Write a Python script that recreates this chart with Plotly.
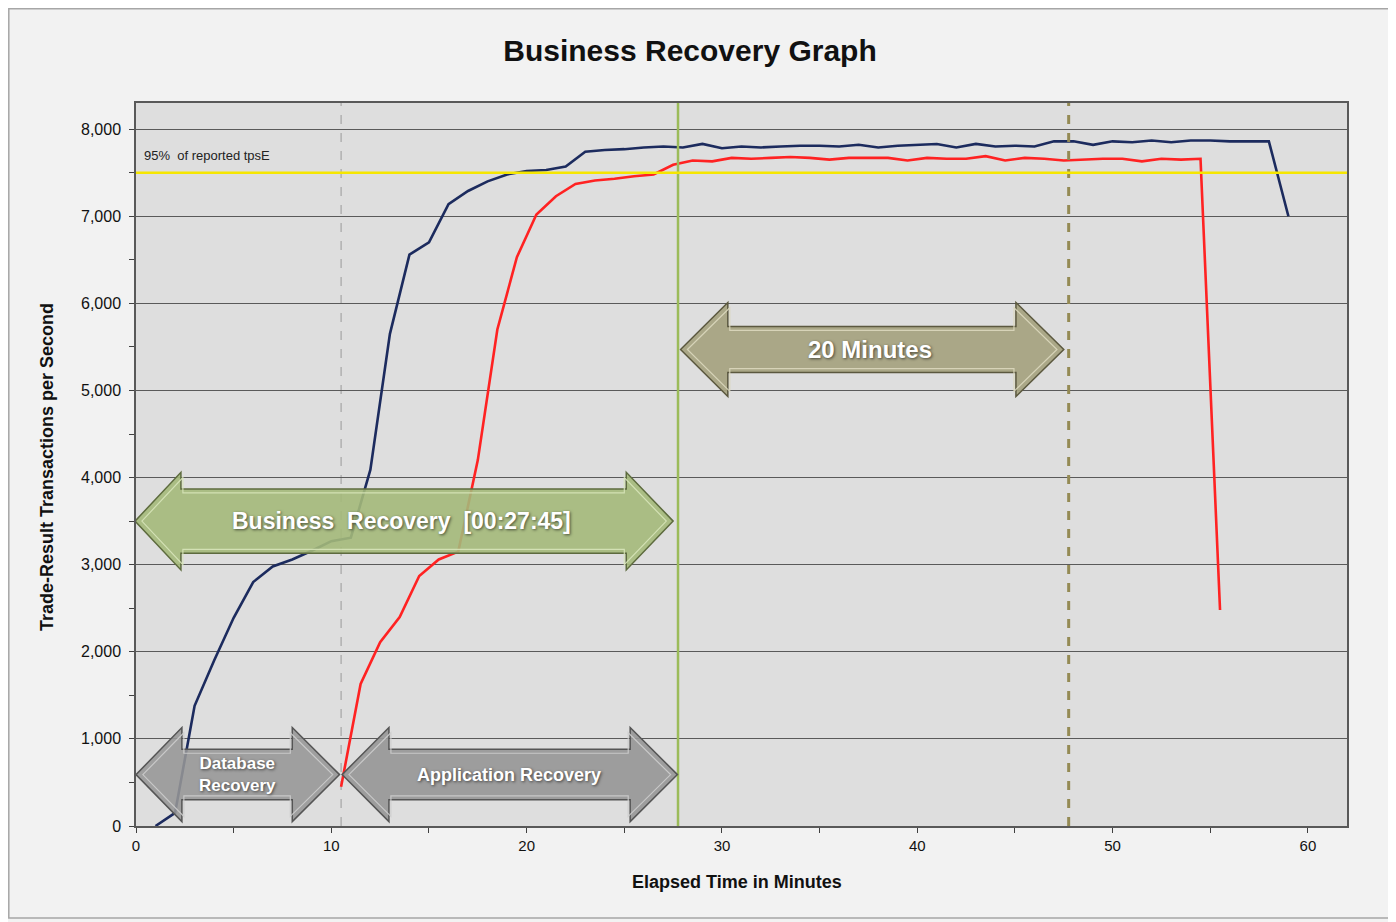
import plotly.graph_objects as go

# ---------------- data ----------------
blue_x = list(range(1, 60))
blue_y = [0, 150, 1380, 1900, 2390, 2800, 2980, 3060, 3160, 3270,
          3310, 4090, 5650, 6560, 6700, 7140, 7290, 7400, 7480, 7520,
          7530, 7570, 7740, 7760, 7770, 7790, 7800, 7790, 7830, 7780,
          7800, 7790, 7800, 7810, 7810, 7800, 7820, 7790, 7810, 7820,
          7830, 7790, 7830, 7800, 7810, 7800, 7860, 7860, 7820, 7860,
          7850, 7870, 7850, 7870, 7870, 7860, 7860, 7860, 7000]

red_x = [v + 0.5 for v in range(10, 56)]
red_y = [450, 1630, 2110, 2400, 2870, 3060, 3150, 4200, 5700, 6530,
         7020, 7230, 7370, 7410, 7430, 7460, 7480, 7590, 7640, 7630,
         7670, 7660, 7670, 7680, 7670, 7650, 7670, 7670, 7670, 7640,
         7670, 7660, 7660, 7690, 7640, 7670, 7660, 7640, 7650, 7660,
         7660, 7630, 7660, 7650, 7660, 2480]

threshold = 7500           # 95% of reported tpsE
db_recovery_end = 10.5
business_recovery = 27.75
twenty_min_mark = 47.75

x_ticks = [0, 10, 20, 30, 40, 50, 60]
y_ticks = [0, 1000, 2000, 3000, 4000, 5000, 6000, 7000, 8000]

FONT = "Liberation Sans Narrow, Arial Narrow, Liberation Sans, Arial"
BOLD = "Liberation Sans, Arial"

# figure geometry (page body has an 8px margin)
W, H = 1388, 914
ML, MR, MT, MB = 128, 49, 95, 96
PW, PH = W - ML - MR, H - MT - MB
PLOT_BOTTOM = H - MB


def px(fx):
    return (fx - ML) / PW


def py(fy):
    return (PLOT_BOTTOM - fy) / PH


fig = go.Figure()

fig.add_trace(go.Scatter(x=blue_x, y=blue_y, mode="lines",
                         line=dict(color="#1c2b5e", width=2.6),
                         showlegend=False, hoverinfo="x+y"))
fig.add_trace(go.Scatter(x=red_x, y=red_y, mode="lines",
                         line=dict(color="#ff2222", width=2.6),
                         showlegend=False, hoverinfo="x+y"))


def arrow_path(xl, xbl, xbr, xr, yc, hh, sh):
    pts = [(xl, yc), (xbl, yc + hh), (xbl, yc + sh), (xbr, yc + sh),
           (xbr, yc + hh), (xr, yc), (xbr, yc - hh), (xbr, yc - sh),
           (xbl, yc - sh), (xbl, yc - hh)]
    return "M " + " L ".join(f"{x},{y}" for x, y in pts) + " Z"


shapes = []
# reference lines
shapes.append(dict(type="line", xref="x", yref="y", x0=db_recovery_end, x1=db_recovery_end,
                   y0=0, y1=8300, line=dict(color="#9a9a9a", width=1, dash="dash"), layer="below"))
shapes.append(dict(type="line", xref="x", yref="paper", x0=business_recovery, x1=business_recovery,
                   y0=0, y1=1, line=dict(color="#9bbb59", width=2.5)))
shapes.append(dict(type="line", xref="x", yref="paper", x0=twenty_min_mark, x1=twenty_min_mark,
                   y0=0, y1=1, line=dict(color="#948a54", width=3, dash="dash")))
shapes.append(dict(type="line", xref="paper", yref="y", x0=0, x1=1, y0=threshold, y1=threshold,
                   line=dict(color="#f5e600", width=2.5)))

# arrows
arrows = [
    # (xl, xbl, xbr, xr, yc, head half, shaft half, fill, edge, highlight)
    (-0.05, 2.3, 25.1, 27.5, 3500, 560, 370, "rgba(164,185,122,0.9)", "#5d6b3e", "rgba(215,228,185,0.9)"),
    (27.88, 30.3, 45.05, 47.5, 5470, 540, 265, "rgba(166,162,128,0.93)", "#5b583f", "rgba(220,216,190,0.9)"),
    (0.0, 2.35, 8.0, 10.42, 590, 540, 290, "rgba(150,150,150,0.88)", "#555555", "rgba(205,205,205,0.9)"),
    (10.55, 12.95, 25.3, 27.72, 590, 540, 290, "rgba(150,150,150,0.9)", "#555555", "rgba(205,205,205,0.9)"),
]
for xl, xbl, xbr, xr, yc, hh, sh, fill, edge, hi in arrows:
    shapes.append(dict(type="path", xref="x", yref="y",
                       path=arrow_path(xl, xbl, xbr, xr, yc, hh, sh),
                       fillcolor=fill, line=dict(color=edge, width=1.5), layer="above"))
    shapes.append(dict(type="path", xref="x", yref="y",
                       path=arrow_path(xl + 0.35, xbl + 0.1, xbr - 0.1, xr - 0.35,
                                       yc, hh - 60, sh - 45),
                       fillcolor="rgba(0,0,0,0)", line=dict(color=hi, width=1.2), layer="above"))

# outer frame
shapes.append(dict(type="rect", xref="paper", yref="paper",
                   x0=px(0.8), x1=px(1382), y0=py(910), y1=py(0.8),
                   line=dict(color="#a6a6a6", width=1.5), fillcolor="rgba(0,0,0,0)", layer="below"))

shadow = "1px 1px 3px rgba(0,0,0,0.6)"
annotations = [
    dict(x=13.6, y=3500, xref="x", yref="y", text="Business  Recovery  [00:27:45]", showarrow=False,
         font=dict(family=BOLD, size=23, color="white", weight="bold", shadow=shadow)),
    dict(x=37.6, y=5470, xref="x", yref="y", text="20 Minutes", showarrow=False,
         font=dict(family=BOLD, size=24, color="white", weight="bold", shadow=shadow)),
    dict(x=5.2, y=590, xref="x", yref="y", text="Database<br>Recovery", showarrow=False,
         font=dict(family=BOLD, size=17, color="white", weight="bold", shadow=shadow)),
    dict(x=19.1, y=590, xref="x", yref="y", text="Application Recovery", showarrow=False,
         font=dict(family=BOLD, size=18, color="white", weight="bold", shadow=shadow)),
    dict(x=0.3, y=7700, xref="x", yref="y", text="95%  of reported tpsE", showarrow=False,
         xanchor="left", font=dict(family=FONT, size=13, color="#222222")),
    dict(x=px(737 - 8), y=py(882 - 8), xref="paper", yref="paper", text="<b>Elapsed Time in Minutes</b>",
         showarrow=False, xanchor="center", yanchor="middle",
         font=dict(family=FONT, size=18, color="#111111")),
    dict(x=px(47 - 8), y=py(467 - 8), xref="paper", yref="paper",
         text="<b>Trade-Result Transactions per Second</b>", textangle=-90,
         showarrow=False, xanchor="center", yanchor="middle",
         font=dict(family=FONT, size=18, color="#111111")),
]

fig.update_layout(
    width=W, height=H,
    margin=dict(l=ML, r=MR, t=MT, b=MB),
    paper_bgcolor="#f2f2f2",
    plot_bgcolor="#dedede",
    title=dict(text="<b>Business Recovery Graph</b>", x=px(690 - 8), xref="paper", xanchor="center",
               y=1 - (50 - 8) / H, yanchor="middle",
               font=dict(family=BOLD, size=30, color="#111111")),
    shapes=shapes,
    annotations=annotations,
    showlegend=False,
)

fig.update_xaxes(range=[0, 62], tickvals=x_ticks, ticktext=[str(v) for v in x_ticks],
                 ticks="outside", ticklen=5, tickcolor="#404040",
                 minor=dict(dtick=5, tick0=0, ticks="outside", ticklen=5, tickcolor="#404040", showgrid=False),
                 showgrid=False, zeroline=False, showline=True, linecolor="#595959", linewidth=1.5,
                 mirror=True, tickfont=dict(family=FONT, size=15, color="#111111"))
fig.update_yaxes(range=[0, 8300], tickvals=y_ticks, ticktext=[f"{v:,}" for v in y_ticks],
                 ticks="outside", ticklen=5, tickcolor="#404040", ticklabelstandoff=5,
                 minor=dict(dtick=500, tick0=0, ticks="outside", ticklen=5, tickcolor="#404040", showgrid=False),
                 showgrid=True, gridcolor="#5a5a5a", gridwidth=1, zeroline=False,
                 showline=True, linecolor="#595959", linewidth=1.5, mirror=True,
                 tickfont=dict(family=FONT, size=16, color="#111111"))

fig.write_html("out.html")
